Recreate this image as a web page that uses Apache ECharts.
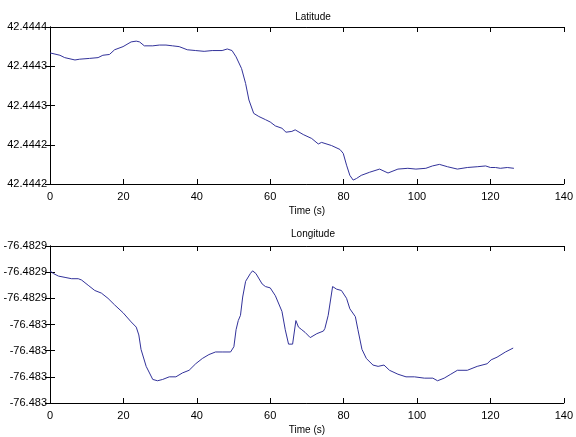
<!DOCTYPE html>
<html>
<head>
<meta charset="utf-8">
<script src="https://cdn.jsdelivr.net/npm/echarts@6/dist/echarts.min.js"></script>
<style>
  html, body { margin: 0; padding: 0; background: #ffffff; }
  #chart { width: 576px; height: 437px; }
</style>
</head>
<body>
<div id="chart"></div>
<script>
// GPS track: latitude and longitude against elapsed time
const latTime = [0, 2.7, 4, 6.8, 8.1, 10.8, 13.1, 14.4, 16.2, 17.6, 19.9, 22.1, 23.5, 24.4, 25.7, 28, 29.8, 31.6, 33.4, 35.2, 37.4, 39.7, 42, 44.2, 46.9, 48.3, 49.6, 50.7, 52.2, 53.3, 54.2, 55.5, 56.9, 58.7, 60, 61.4, 63.2, 64.3, 65.9, 66.8, 69, 71.3, 73.1, 74, 76.7, 79, 79.9, 80.8, 81.7, 82.6, 83.5, 84.8, 87.1, 89.8, 92.1, 94.8, 97.5, 99.7, 102.4, 104.2, 106.1, 108.3, 111, 113.7, 116.4, 118.7, 120, 121.4, 122.7, 124.6, 126.4];
const latValue = [42.444367, 42.444364, 42.444361, 42.444358, 42.444359, 42.444360, 42.444361, 42.444364, 42.444365, 42.444371, 42.444375, 42.444381, 42.444382, 42.444381, 42.444376, 42.444376, 42.444377, 42.444377, 42.444376, 42.444375, 42.444371, 42.444370, 42.444369, 42.444370, 42.444370, 42.444372, 42.444370, 42.444362, 42.444347, 42.444328, 42.444307, 42.444290, 42.444286, 42.444282, 42.444279, 42.444274, 42.444271, 42.444266, 42.444267, 42.444269, 42.444263, 42.444258, 42.444251, 42.444253, 42.444249, 42.444244, 42.444239, 42.444224, 42.444211, 42.444205, 42.444207, 42.444211, 42.444215, 42.444219, 42.444214, 42.444219, 42.444220, 42.444219, 42.444220, 42.444223, 42.444225, 42.444222, 42.444219, 42.444221, 42.444222, 42.444223, 42.444221, 42.444221, 42.444220, 42.444221, 42.444220];

const lonTime = [0, 0.9, 2.3, 4.1, 5.9, 7.7, 8.6, 10.4, 12.2, 14, 15.8, 17.6, 19.9, 22.1, 23.5, 24.2, 24.8, 26.2, 28, 29.3, 30.7, 32.5, 34.3, 36.1, 37.9, 39.7, 41.5, 43.3, 45.1, 46.9, 49.2, 50.1, 50.7, 51.3, 51.9, 52.5, 53.3, 54.6, 55.2, 56.1, 57.8, 58.7, 60, 61.4, 63.2, 64.1, 65, 66.1, 67, 67.7, 68.6, 69.5, 70.9, 72.7, 74.5, 74.9, 75.8, 77, 78.1, 79.4, 80.8, 81.7, 83.2, 83.9, 85, 86.2, 88, 89.4, 91, 92.5, 94.8, 97, 99.3, 102, 104.3, 105.6, 107.4, 109.2, 111, 113.7, 116.4, 119.1, 120.2, 121.8, 124.1, 126.2];
const lonValue = [-76.482899, -76.482901, -76.482903, -76.482904, -76.482905, -76.482905, -76.482906, -76.482910, -76.482914, -76.482916, -76.482920, -76.482925, -76.482931, -76.482938, -76.482942, -76.482948, -76.482959, -76.482972, -76.482982, -76.482983, -76.482982, -76.482980, -76.482980, -76.482977, -76.482975, -76.482970, -76.482966, -76.482963, -76.482961, -76.482961, -76.482961, -76.482957, -76.482944, -76.482937, -76.482933, -76.482919, -76.482907, -76.482901, -76.482899, -76.482901, -76.482909, -76.482911, -76.482912, -76.482918, -76.482930, -76.482944, -76.482955, -76.482955, -76.482937, -76.482942, -76.482944, -76.482946, -76.482950, -76.482947, -76.482945, -76.482943, -76.482933, -76.482911, -76.482913, -76.482914, -76.482920, -76.482928, -76.482934, -76.482944, -76.482959, -76.482966, -76.482971, -76.482972, -76.482971, -76.482975, -76.482978, -76.482980, -76.482980, -76.482981, -76.482981, -76.482983, -76.482981, -76.482978, -76.482975, -76.482975, -76.482972, -76.482970, -76.482967, -76.482965, -76.482961, -76.482958];

// Tick labels as printed by the plotting tool (4 decimals)
const latTickLabels = ['42.4442', '42.4442', '42.4443', '42.4443', '42.4444'];
const lonTickLabels = ['-76.483', '-76.483', '-76.483', '-76.483', '-76.4829', '-76.4829', '-76.4829'];
const timeTicks = { min: 0, max: 140, interval: 20 };

const latAxis = { min: 42.4442, max: 42.4444, interval: 0.00005 };
const lonAxis = { min: -76.483, max: -76.48288, interval: 0.00002 };

const FONT = 'Liberation Sans, Arial, sans-serif';
const LINE_COLOR = '#32329a';

function pairs(t, v) { return t.map((x, i) => [x, v[i]]); }

function tickLabel(labels, ax) {
  return function (v) {
    const i = Math.round((v - ax.min) / ax.interval);
    return labels[i] !== undefined ? labels[i] : '';
  };
}

const frameLine = { show: true, lineStyle: { color: '#000', width: 1 } };
const innerTick = { show: true, inside: true, length: 5, lineStyle: { color: '#000', width: 1 } };

function xAxes(gridIndex) {
  return [
    {
      type: 'value', gridIndex, position: 'bottom',
      min: timeTicks.min, max: timeTicks.max, interval: timeTicks.interval,
      axisLine: frameLine, axisTick: innerTick, splitLine: { show: false },
      axisLabel: { color: '#000', fontSize: 11, fontFamily: FONT, margin: 7 },
      name: 'Time (s)', nameLocation: 'middle', nameGap: 22,
      nameTextStyle: { color: '#000', fontSize: 10, fontFamily: FONT }
    },
    {
      type: 'value', gridIndex, position: 'top',
      min: timeTicks.min, max: timeTicks.max, interval: timeTicks.interval,
      axisLine: frameLine, axisTick: innerTick, splitLine: { show: false },
      axisLabel: { show: false }
    }
  ];
}

function yAxes(gridIndex, ax, labels) {
  return [
    {
      type: 'value', gridIndex, position: 'left',
      min: ax.min, max: ax.max, interval: ax.interval,
      axisLine: frameLine, axisTick: innerTick, splitLine: { show: false },
      axisLabel: { color: '#000', fontSize: 11, fontFamily: FONT, margin: 3, formatter: tickLabel(labels, ax) }
    },
    {
      type: 'value', gridIndex, position: 'right',
      min: ax.min, max: ax.max, interval: ax.interval,
      axisLine: frameLine, axisTick: innerTick, splitLine: { show: false },
      axisLabel: { show: false }
    }
  ];
}

const chart = echarts.init(document.getElementById('chart'), null, { renderer: 'canvas' });

chart.setOption({
  backgroundColor: '#ffffff',
  animation: false,
  title: [
    { text: 'Latitude', left: 308, top: 7, textAlign: 'center',
      textStyle: { fontSize: 10, fontWeight: 'normal', color: '#000', fontFamily: FONT } },
    { text: 'Longitude', left: 308, top: 224, textAlign: 'center',
      textStyle: { fontSize: 10, fontWeight: 'normal', color: '#000', fontFamily: FONT } }
  ],
  grid: [
    { left: 50, top: 27, width: 518, height: 157 },
    { left: 50, top: 246, width: 518, height: 157 }
  ],
  xAxis: [...xAxes(0), ...xAxes(1)],
  yAxis: [...yAxes(0, latAxis, latTickLabels), ...yAxes(1, lonAxis, lonTickLabels)],
  series: [
    {
      type: 'line', xAxisIndex: 0, yAxisIndex: 0,
      data: pairs(latTime, latValue),
      showSymbol: false, smooth: false,
      lineStyle: { color: LINE_COLOR, width: 1 }
    },
    {
      type: 'line', xAxisIndex: 2, yAxisIndex: 2,
      data: pairs(lonTime, lonValue),
      showSymbol: false, smooth: false,
      lineStyle: { color: LINE_COLOR, width: 1 }
    }
  ]
});
</script>
</body>
</html>
